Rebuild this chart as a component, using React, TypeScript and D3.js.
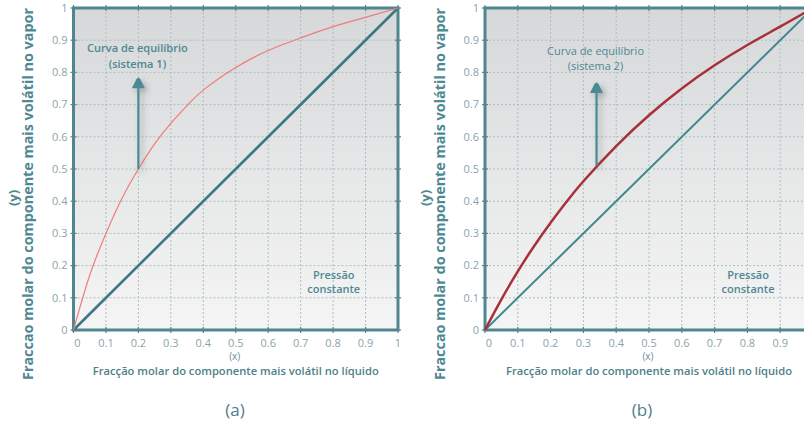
import * as d3 from 'd3';

// grid / tick values shared by both panels
const gridTicks = [0, 0.1, 0.2, 0.3, 0.4, 0.5, 0.6, 0.7, 0.8, 0.9, 1];
const tickLabels = ['0', '0.1', '0.2', '0.3', '0.4', '0.5', '0.6', '0.7', '0.8', '0.9', '1'];

// diagonal y = x
const diagX = [0, 1];
const diagY = [0, 1];

// equilibrium curve, sistema 1
const curveAX = [0, 0.05, 0.1, 0.15, 0.2, 0.25, 0.3, 0.35, 0.4, 0.5, 0.6, 0.7, 0.8, 0.9, 1];
const curveAY = [0, 0.17, 0.3, 0.41, 0.5, 0.578, 0.642, 0.697, 0.745, 0.815, 0.868, 0.907, 0.942, 0.971, 1];

// equilibrium curve, sistema 2
const curveBX = [0, 0.05, 0.1, 0.15, 0.2, 0.25, 0.3, 0.4, 0.5, 0.6, 0.7, 0.8, 0.9, 1];
const curveBY = [0, 0.095, 0.182, 0.261, 0.333, 0.4, 0.462, 0.571, 0.667, 0.75, 0.822, 0.885, 0.942, 1];

// arrow: x position, foot, tip
const arrowA = [0.2, 0.5, 0.785];
const arrowB = [0.34, 0.51, 0.77];

const FONT = '"Open Sans", "DejaVu Sans", sans-serif';

interface PanelProps {
  id: string;
  left: number;
  right: number;
  curveX: number[];
  curveY: number[];
  curveColor: string;
  curveWidth: number;
  diagColor: string;
  diagWidth: number;
  arrow: number[];
  sistema: string;
  annoWeight: number;
  letter: string;
  showLast: boolean;
}

function Panel(p: PanelProps) {
  const top = 8;
  const bottom = 330;
  const x = d3.scaleLinear().domain([0, 1]).range([p.left, p.right]);
  const y = d3.scaleLinear().domain([0, 1]).range([bottom, top]);
  const line = d3.line<[number, number]>().x(d => x(d[0])).y(d => y(d[1]));
  const curve = d3.line<[number, number]>().x(d => x(d[0])).y(d => y(d[1])).curve(d3.curveNatural);

  const frame = '#4f8690';
  const tickCol = '#8aa3ab';
  const textCol = '#4e8893';
  const cx = (p.left + p.right) / 2 - 1;
  const off = p.left - 73.5;

  const ax = x(p.arrow[0]);
  const aFoot = y(p.arrow[1]);
  const aTip = y(p.arrow[2]);
  const headH = 11;

  return (
    <g>
      <rect x={p.left} y={top} width={p.right - p.left} height={bottom - top} fill={`url(#bg-${p.id})`} />
      {gridTicks.slice(1, -1).map(t => (
        <g key={t}>
          <line x1={x(t)} x2={x(t)} y1={top} y2={bottom} stroke="#a9bfc5" strokeWidth={1} strokeDasharray="2,2" />
          <line x1={p.left} x2={p.right} y1={y(t)} y2={y(t)} stroke="#a9bfc5" strokeWidth={1} strokeDasharray="2,2" />
        </g>
      ))}
      {gridTicks.map(t => (
        <g key={'t' + t}>
          <line x1={p.left - 3} x2={p.left + 3} y1={y(t)} y2={y(t)} stroke={frame} strokeWidth={1.2} />
          <line x1={p.right - 3} x2={p.right + 3} y1={y(t)} y2={y(t)} stroke={frame} strokeWidth={1.2} />
          <line x1={x(t)} x2={x(t)} y1={bottom - 3} y2={bottom + 3} stroke={frame} strokeWidth={1.2} />
          <line x1={x(t)} x2={x(t)} y1={top - 3} y2={top + 3} stroke={frame} strokeWidth={1.2} />
        </g>
      ))}
      <rect x={p.left} y={top} width={p.right - p.left} height={bottom - top} fill="none" stroke={frame} strokeWidth={3} />

      {/* y tick labels */}
      {gridTicks.map((t, i) => (
        <text key={'yl' + t} x={p.left - 6} y={y(t)} dy="0.35em" textAnchor="end"
          fontFamily={FONT} fontSize={11} fill={tickCol}>{tickLabels[i]}</text>
      ))}
      {/* x tick labels */}
      {gridTicks.map((t, i) => (p.showLast || i < gridTicks.length - 1) && (
        <text key={'xl' + t} x={x(t) + (i === 0 ? 4 : 0)} y={347} textAnchor="middle"
          fontFamily={FONT} fontSize={11} fill={tickCol}>{tickLabels[i]}</text>
      ))}

      {/* diagonal */}
      <path d={line(diagX.map((v, i) => [v, diagY[i]]) as [number, number][]) || ''} fill="none"
        stroke={p.diagColor} strokeWidth={p.diagWidth} />
      {/* equilibrium curve */}
      <path d={curve(p.curveX.map((v, i) => [v, p.curveY[i]]) as [number, number][]) || ''} fill="none"
        stroke={p.curveColor} strokeWidth={p.curveWidth} />

      {/* arrow */}
      <g filter={`url(#sh-${p.id})`}>
        <line x1={ax} x2={ax} y1={aFoot} y2={aTip + headH - 1} stroke="#4a8a94" strokeWidth={2.2} />
        <path d={`M${ax - 6.5},${aTip + headH} L${ax - 2},${aTip + 2} Q${ax},${aTip - 1} ${ax + 2},${aTip + 2} L${ax + 6.5},${aTip + headH} Z`}
          fill="#4a8a94" />
      </g>

      {/* annotations */}
      <text x={ax - 1} y={p.id === 'a' ? 52 : 55} textAnchor="middle" fontFamily={FONT} fontSize={11}
        fontWeight={p.annoWeight} fill={textCol}>Curva de equilíbrio</text>
      <text x={ax - 1} y={p.id === 'a' ? 68 : 70} textAnchor="middle" fontFamily={FONT} fontSize={11}
        fontWeight={p.annoWeight} fill={textCol}>{p.sistema}</text>
      <text x={x(0.802)} y={279} textAnchor="middle" fontFamily={FONT} fontSize={11}
        fontWeight={600} fill={textCol}>Pressão</text>
      <text x={x(0.802)} y={293} textAnchor="middle" fontFamily={FONT} fontSize={11}
        fontWeight={600} fill={textCol}>constante</text>

      {/* x axis titles */}
      <text x={cx} y={360} textAnchor="middle" fontFamily={FONT} fontSize={10} fill="#6a8f98">(x)</text>
      <text x={cx + 1} y={375} textAnchor="middle" fontFamily={FONT} fontSize={11} fontWeight={600}
        fill="#4e7f8a" textLength={286} lengthAdjust="spacingAndGlyphs">
        Fracção molar do componente mais volátil no líquido
      </text>

      {/* y axis titles */}
      <text transform={`translate(${18 + off},198) rotate(-90)`} textAnchor="middle" fontFamily={FONT}
        fontSize={13} fontWeight={700} fill={textCol}>(y)</text>
      <text transform={`translate(${33 + off},194) rotate(-90)`} textAnchor="middle" fontFamily={FONT}
        fontSize={14} fontWeight={700} fill={textCol} textLength={372} lengthAdjust="spacingAndGlyphs">
        Fraccao molar do componente mais volátil no vapor
      </text>

      <text x={p.id === 'a' ? 235 : 642} y={416} textAnchor="middle" fontFamily={FONT} fontSize={17}
        fill="#4f7d8a">{p.letter}</text>
    </g>
  );
}

export default function App() {
  return (
    <svg width={804} height={425} style={{ position: 'absolute', left: 0, top: 0, background: '#fff' }}>
      <defs>
        {['a', 'b'].map(id => (
          <g key={id}>
            <linearGradient id={`bg-${id}`} x1="0" y1="0" x2="0" y2="1">
              <stop offset="0%" stopColor="#d6d8d9" />
              <stop offset="100%" stopColor="#f5f5f5" />
            </linearGradient>
            <filter id={`sh-${id}`} x="-200%" y="-50%" width="500%" height="200%">
              <feDropShadow dx={3} dy={3} stdDeviation={3} floodColor="#555" floodOpacity={0.45} />
            </filter>
          </g>
        ))}
      </defs>
      <Panel id="a" left={73.5} right={398} curveX={curveAX} curveY={curveAY} curveColor="#f07b7b"
        curveWidth={1.2} diagColor="#3d7880" diagWidth={2.6} arrow={arrowA} sistema="(sistema 1)"
        annoWeight={600} letter="(a)" showLast={true} />
      <Panel id="b" left={485} right={813} curveX={curveBX} curveY={curveBY} curveColor="#a8303a"
        curveWidth={2.5} diagColor="#3f878f" diagWidth={2} arrow={arrowB} sistema="(sistema 2)"
        annoWeight={400} letter="(b)" showLast={false} />
    </svg>
  );
}
